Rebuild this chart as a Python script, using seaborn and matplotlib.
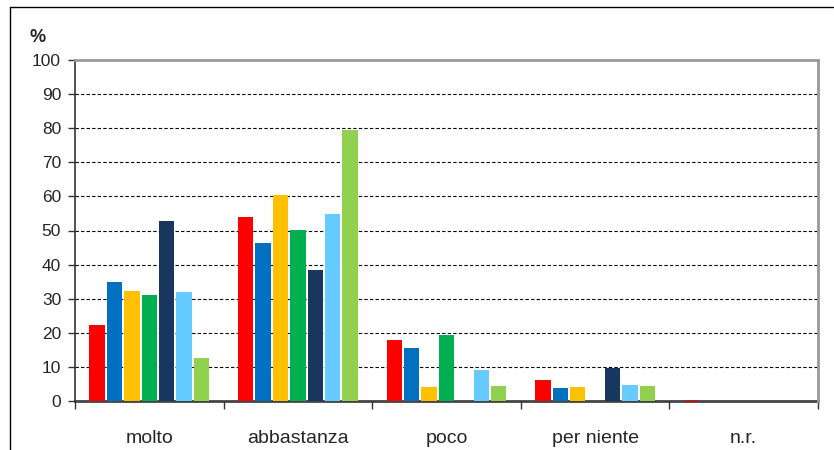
import numpy as np
import pandas as pd
import matplotlib.pyplot as plt
from matplotlib.lines import Line2D
from matplotlib.ticker import MultipleLocator, FixedLocator
import seaborn as sns

categorie = ["molto", "abbastanza", "poco", "per niente", "n.r."]
serie = ["s1", "s2", "s3", "s4", "s5", "s6", "s7"]
colori = ["#FF0000", "#0070C0", "#FFC000", "#00B050", "#17375E", "#66CCFF", "#92D050"]

# valori per serie, nell'ordine delle categorie
s1 = [22.3, 54.0, 17.9, 6.2, 0.4]
s2 = [34.9, 46.3, 15.5, 3.8, 0]
s3 = [32.3, 60.4, 4.1, 4.1, 0]
s4 = [31.1, 50.1, 19.4, 0, 0]
s5 = [52.8, 38.4, 0, 9.7, 0]
s6 = [32.0, 54.8, 9.1, 4.7, 0]
s7 = [12.6, 79.5, 4.4, 4.4, 0]

valori = [s1, s2, s3, s4, s5, s6, s7]
righe = []
for nome, vals in zip(serie, valori):
    for cat, v in zip(categorie, vals):
        righe.append({"categoria": cat, "serie": nome, "valore": v})
df = pd.DataFrame(righe)

sns.set_style("white")
plt.rcParams["font.family"] = ["Liberation Sans", "DejaVu Sans"]

fig = plt.figure(figsize=(8.34, 4.5), dpi=100)
ax = fig.add_axes([75 / 834, 1 - 401 / 450, 743 / 834, 341 / 450])

sns.barplot(data=df, x="categoria", y="valore", hue="serie", order=categorie,
            hue_order=serie, palette=colori, width=0.82, gap=0.12,
            saturation=1, legend=False, ax=ax, errorbar=None, linewidth=0)

ax.set_ylim(0, 100)
ax.set_xlim(-0.5, 4.5)
ax.yaxis.set_major_locator(MultipleLocator(10))
for y in range(10, 100, 10):
    ax.axhline(y, color="black", lw=0.8, ls=(0, (3, 2)), zorder=0)

ax.set_xlabel("")
ax.set_ylabel("")
ax.tick_params(axis="y", which="major", left=True, length=5, width=1,
               color="#333333", labelsize=12.5, pad=5)
ax.tick_params(axis="x", which="major", length=0, labelsize=14, pad=21)
ax.xaxis.set_minor_locator(FixedLocator(np.arange(-0.5, 5, 1)))
ax.tick_params(axis="x", which="minor", bottom=True, length=6, width=1,
               color="#333333")

for lato in ["top", "right"]:
    ax.spines[lato].set_color("#999999")
    ax.spines[lato].set_linewidth(2)
ax.spines["left"].set_color("#333333")
ax.spines["left"].set_linewidth(1.2)
ax.spines["bottom"].set_color("#444444")
ax.spines["bottom"].set_linewidth(2)
ax.spines["bottom"].set_zorder(0.5)

fig.text(38 / 834, 1 - 37 / 450, "%", fontsize=13, fontweight="bold",
         ha="center", va="center")

# cornice del grafico
fig.add_artist(Line2D([10 / 834, 833 / 834], [1 - 7 / 450, 1 - 7 / 450],
                      color="black", lw=1, transform=fig.transFigure))
fig.add_artist(Line2D([10 / 834, 10 / 834], [0, 1 - 7 / 450],
                      color="black", lw=1, transform=fig.transFigure))

fig.savefig("out.png", dpi=100)
